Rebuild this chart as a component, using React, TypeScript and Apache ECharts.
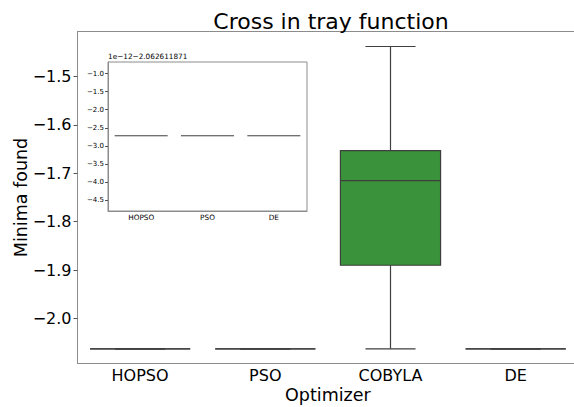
import React, { useEffect, useRef } from "react";
import * as echarts from "echarts";

const categories = ["HOPSO", "PSO", "COBYLA", "DE"];
// [min, q1, median, q3, max]
const boxStats = [
  [-2.0626, -2.0626, -2.0626, -2.0626, -2.0626],
  [-2.0626, -2.0626, -2.0626, -2.0626, -2.0626],
  [-2.0626, -1.89, -1.715, -1.653, -1.438],
  [-2.0626, -2.0626, -2.0626, -2.0626, -2.0626],
];
const boxColors = ["#3274a1", "#e1812c", "#3a923a", "#c03d3e"];

const insetCategories = ["HOPSO", "PSO", "DE"];
// values in units of 1e-12, offset by -2.062611871
const insetValues = [-2.72, -2.72, -2.72];
const insetOffsetText = "1e\u221212\u22122.062611871";

const minus = (v: number, d: number) => {
  const s = v.toFixed(d);
  return s.replace("-", "\u2212");
};

const EDGE = "#3f3f3f";

function renderBox(params: any, api: any) {
  const i = api.value(0);
  const lo = api.value(1), q1 = api.value(2), med = api.value(3), q3 = api.value(4), hi = api.value(5);
  const pLo = api.coord([i, lo]);
  const pQ1 = api.coord([i, q1]);
  const pMed = api.coord([i, med]);
  const pQ3 = api.coord([i, q3]);
  const pHi = api.coord([i, hi]);
  const bw = api.size([1, 0])[0] * 0.8;
  const cap = bw / 2;
  const cx = pLo[0];
  const color = boxColors[params.dataIndex];
  const lineStyle = { stroke: EDGE, lineWidth: 1.2 };
  return {
    type: "group",
    children: [
      { type: "line", shape: { x1: cx, y1: pQ1[1], x2: cx, y2: pLo[1] }, style: lineStyle },
      { type: "line", shape: { x1: cx, y1: pQ3[1], x2: cx, y2: pHi[1] }, style: lineStyle },
      { type: "line", shape: { x1: cx - cap / 2, y1: pLo[1], x2: cx + cap / 2, y2: pLo[1] }, style: lineStyle },
      { type: "line", shape: { x1: cx - cap / 2, y1: pHi[1], x2: cx + cap / 2, y2: pHi[1] }, style: lineStyle },
      {
        type: "rect",
        shape: { x: cx - bw / 2, y: pQ3[1], width: bw, height: pQ1[1] - pQ3[1] },
        style: { fill: color, stroke: EDGE, lineWidth: 1.2 },
      },
      { type: "line", shape: { x1: cx - bw / 2, y1: pMed[1], x2: cx + bw / 2, y2: pMed[1] }, style: lineStyle },
    ],
  };
}

function renderInset(params: any, api: any) {
  const i = api.value(0);
  const v = api.value(1);
  const p = api.coord([i, v]);
  const bw = api.size([1, 0])[0] * 0.8;
  return {
    type: "line",
    shape: { x1: p[0] - bw / 2, y1: p[1], x2: p[0] + bw / 2, y2: p[1] },
    style: { stroke: EDGE, lineWidth: 1 },
  };
}

export default function App() {
  const ref = useRef<HTMLDivElement>(null);
  useEffect(() => {
    if (!ref.current) return;
    const chart = echarts.init(ref.current, undefined, { renderer: "svg" });
    const font = "DejaVu Sans";
    const frame = "#8c8c8c";
    chart.setOption({
      animation: false,
      textStyle: { fontFamily: font },
      title: {
        text: "Cross in tray function",
        left: 326,
        top: 5,
        textAlign: "center",
        textStyle: { fontFamily: font, fontSize: 22, fontWeight: "normal", color: "#000" },
      },
      grid: [
        { left: 77.5, top: 31.5, right: -4.3, bottom: 43.5, show: false, outerBoundsMode: "none", containLabel: false },
        { left: 108, top: 62, width: 199, height: 149, show: true, borderColor: frame, borderWidth: 1, backgroundColor: "#fff", z: 5, outerBoundsMode: "none", containLabel: false },
      ],
      xAxis: [
        {
          type: "category",
          gridIndex: 0,
          data: categories,
          name: "Optimizer",
          nameLocation: "middle",
          nameGap: 22,
          nameMoveOverlap: false,
          nameTextStyle: { fontFamily: font, fontSize: 17.5, color: "#000" },
          axisLine: { lineStyle: { color: frame } },
          axisTick: { alignWithLabel: true, length: 4, lineStyle: { color: "#555" } },
          axisLabel: { fontFamily: font, fontSize: 16, color: "#000", margin: 4 },
          splitLine: { show: false },
        },
        {
          type: "category",
          gridIndex: 1,
          data: insetCategories,
          axisLine: { lineStyle: { color: frame } },
          axisTick: { alignWithLabel: true, length: 3, lineStyle: { color: "#555" } },
          axisLabel: { fontFamily: font, fontSize: 7.3, color: "#000", margin: 3 },
          splitLine: { show: false },
          z: 6,
        },
        {
          type: "category",
          gridIndex: 0,
          position: "top",
          data: categories,
          axisLine: { show: true, lineStyle: { color: frame } },
          axisTick: { show: false },
          axisLabel: { show: false },
          splitLine: { show: false },
        },
      ],
      yAxis: [
        {
          type: "value",
          gridIndex: 0,
          min: -2.093,
          max: -1.407,
          splitNumber: 6,
          name: "Minima found",
          nameLocation: "middle",
          nameGap: 48,
          nameMoveOverlap: false,
          nameTextStyle: { fontFamily: font, fontSize: 17.5, color: "#000" },
          axisLine: { show: true, lineStyle: { color: frame } },
          axisTick: { show: true, length: 4, lineStyle: { color: "#555" } },
          axisLabel: {
            fontFamily: font,
            fontSize: 16,
            color: "#000",
            margin: 6,
            showMinLabel: false,
            showMaxLabel: false,
            formatter: (v: number) => minus(v, 1),
          },
          splitLine: { show: false },
        },
        {
          type: "value",
          gridIndex: 1,
          min: -4.8,
          max: -0.68,
          splitNumber: 8,
          name: insetOffsetText,
          nameLocation: "end",
          nameGap: 2,
          nameMoveOverlap: false,
          nameTextStyle: { fontFamily: font, fontSize: 7.3, color: "#000", align: "left", verticalAlign: "bottom" },
          axisLine: { show: true, lineStyle: { color: frame } },
          axisTick: { show: true, length: 3, lineStyle: { color: "#555" } },
          axisLabel: {
            fontFamily: font,
            fontSize: 7,
            color: "#000",
            margin: 4,
            showMinLabel: false,
            showMaxLabel: false,
            formatter: (v: number) => minus(v, 1),
          },
          splitLine: { show: false },
          z: 6,
        },
      ],
      series: [
        {
          type: "custom",
          xAxisIndex: 0,
          yAxisIndex: 0,
          renderItem: renderBox,
          encode: { x: 0, y: [1, 2, 3, 4, 5] },
          data: boxStats.map((s, i) => [i, ...s]),
          z: 2,
        },
        {
          type: "custom",
          xAxisIndex: 1,
          yAxisIndex: 1,
          renderItem: renderInset,
          encode: { x: 0, y: 1 },
          data: insetValues.map((v, i) => [i, v]),
          z: 10,
        },
      ],
    });
    return () => chart.dispose();
  }, []);
  return (
    <div
      ref={ref}
      style={{ position: "fixed", left: 0, top: 0, width: 574, height: 407, background: "#fff" }}
    />
  );
}
